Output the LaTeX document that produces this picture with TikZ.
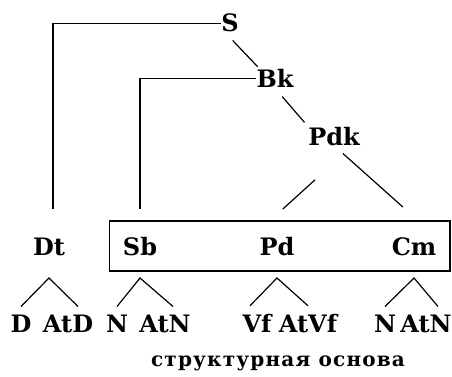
\documentclass[tikz,border=0pt]{standalone}
\usepackage{fontspec}
\setmainfont{DejaVu Serif}
\usepackage{tikz}
\usetikzlibrary{
	positioning,
	fit
}

\begin{document}
\begin{tikzpicture}[
				x=1pt, y=-1pt,
				sym/.style={
					inner sep=0pt, anchor=base,
					font=\bfseries\fontsize{24}{24}\selectfont
				},
				leaf/.style={
					sym, outer ysep=8pt
				},
				branch/.style={line width=1.2pt, black}
				]
				\useasboundingbox (0,0) rectangle (452,377);
				
				% top of the tree
				\node[sym] (S) at (230,32) {S};
				\node[sym] (Bk) at (275,88) {Bk};
				\node[sym] (Pdk) at (334,145) {Pdk};
				
				% middle row
				\node[sym] (Dt) at (49,255) {Dt};
				\node[sym] (Sb) at (140,255) {Sb};
				\node[sym] (Pd) at (277,255) {Pd};
				\node[sym] (Cm) at (414,255) {Cm};
				
				% structural base (boxed)
				\node[draw, line width=1.2pt, fit=(Sb)(Pd)(Cm), inner xsep=13.5pt, inner ysep=15.5pt] (core) {};
				
				% bottom row
				\node[leaf] (D) at (21,332) {D};
				\node[leaf] (AtD) at (68,332) {AtD};
				\node[leaf] (Nsb) at (117,332) {N};
				\node[leaf] (AtNsb) at (165,332) {AtN};
				\node[leaf] (Vf) at (257,332) {Vf};
				\node[leaf] (AtVf) at (308,332) {AtVf};
				\node[leaf] (Ncm) at (385,332) {N};
				\node[leaf] (AtNcm) at (426,332) {AtN};
				
				% caption
				\node[anchor=base, font=\bfseries\fontsize{20}{20}\selectfont\addfontfeature{LetterSpace=6}] (caption) at (278,366) {структурная основа};
				
				% roof tops
				\coordinate (Dt-root) at ([yshift=-23pt]Dt.base);
				\coordinate (Sb-root) at ([yshift=-23pt]Sb.base);
				\coordinate (Pd-root) at ([yshift=-23pt]Pd.base);
				\coordinate (Cm-root) at ([yshift=-23pt]Cm.base);
				
				% branches
				\draw[branch] (S.west) -| ([xshift=4pt, yshift=28.5pt]Dt.north);
				\draw[branch, shorten <=11pt, shorten >=4pt] ([xshift=4pt]S.south west) -- ([xshift=4pt]Bk.north west);
				\draw[branch] (Bk.west) -| ([yshift=28pt]Sb.north);
				\draw[branch, shorten <=11pt, shorten >=5.5pt] (Bk.south) -- (Pdk.north west);
				\draw[branch, shorten <=12pt, shorten >=45pt] (Pdk.south) -- (Cm.north east);
				\draw[branch, shorten <=51pt, shorten >=41pt] ([xshift=-7pt]Pdk.south east) -- ([xshift=-7pt]Pd.north west);
				
				% roofs
				\draw[branch] (D.north) -- (Dt-root) -- ([xshift=10pt]AtD.north);
				\draw[branch] (Nsb.north) -- (Sb-root) -- ([xshift=8pt]AtNsb.north);
				\draw[branch] ([xshift=-7pt]Vf.north) -- (Pd-root) -- (AtVf.north);
				\draw[branch] (Ncm.north) -- (Cm-root) -- ([xshift=12pt]AtNcm.north);
			\end{tikzpicture}
\end{document}
